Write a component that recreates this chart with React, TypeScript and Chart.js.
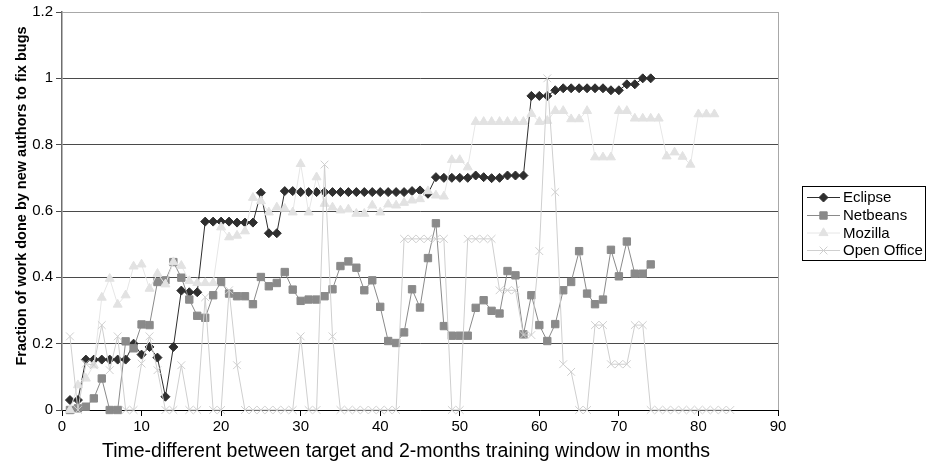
import React, { useEffect, useRef } from "react";
import { Chart, registerables } from "chart.js";
import { drawPoint } from "chart.js/helpers";

Chart.register(...registerables);

// Fraction of bug-fix work done by new authors, one value per month offset (starting at month 1)
const eclipse = [
  0.03, 0.03, 0.152, 0.152, 0.152, 0.152, 0.152, 0.152, 0.2, 0.167,
  0.19, 0.158, 0.04, 0.19, 0.36, 0.355, 0.355, 0.568, 0.568, 0.568,
  0.568, 0.565, 0.565, 0.565, 0.655, 0.533, 0.533, 0.66, 0.66, 0.657,
  0.657, 0.657, 0.657, 0.657, 0.657, 0.657, 0.657, 0.657, 0.657, 0.657,
  0.657, 0.657, 0.657, 0.66, 0.662, 0.652, 0.702, 0.7, 0.7, 0.7,
  0.7, 0.707, 0.702, 0.699, 0.7, 0.707, 0.707, 0.707, 0.947, 0.947,
  0.947, 0.964, 0.97, 0.97, 0.97, 0.97, 0.97, 0.97, 0.964, 0.964,
  0.982, 0.982, 1.0, 1.0,
];

const netbeans = [
  0.0, 0.005, 0.01, 0.035, 0.095, 0.0, 0.0, 0.207, 0.186, 0.258,
  0.256, 0.386, 0.391, 0.446, 0.399, 0.333, 0.284, 0.278, 0.346, 0.386,
  0.351, 0.343, 0.343, 0.319, 0.401, 0.373, 0.383, 0.416, 0.363, 0.329,
  0.333, 0.333, 0.343, 0.364, 0.434, 0.448, 0.429, 0.361, 0.391, 0.311,
  0.208, 0.202, 0.234, 0.364, 0.309, 0.458, 0.563, 0.253, 0.224, 0.224,
  0.224, 0.308, 0.331, 0.299, 0.291, 0.419, 0.406, 0.228, 0.346, 0.256,
  0.208, 0.259, 0.361, 0.386, 0.479, 0.351, 0.319, 0.333, 0.483, 0.403,
  0.508, 0.411, 0.411, 0.439,
];

const mozilla = [
  0.0, 0.075, 0.095, 0.135, 0.339, 0.396, 0.318, 0.346, 0.433, 0.439,
  0.366, 0.411, 0.379, 0.446, 0.435, 0.389, 0.383, 0.383, 0.383, 0.551,
  0.521, 0.526, 0.539, 0.64, 0.63, 0.596, 0.611, 0.607, 0.596, 0.742,
  0.596, 0.702, 0.622, 0.611, 0.602, 0.605, 0.592, 0.592, 0.617, 0.596,
  0.62, 0.617, 0.625, 0.632, 0.636, 0.66, 0.647, 0.644, 0.754, 0.754,
  0.732, 0.869, 0.869, 0.869, 0.869, 0.869, 0.869, 0.869, 0.893, 0.869,
  0.872, 0.902, 0.902, 0.877, 0.877, 0.902, 0.762, 0.762, 0.762, 0.902,
  0.902, 0.879, 0.879, 0.879, 0.879, 0.765, 0.777, 0.764, 0.74, 0.892,
  0.892, 0.892,
];

const openOffice = [
  0.222, 0.0, 0.14, 0.135, 0.256, 0.12, 0.222, 0.0, 0.0, 0.14,
  0.222, 0.12, 0.0, 0.0, 0.135, 0.0, 0.0, 0.34, 0.0, 0.0,
  0.361, 0.135, 0.0, 0.0, 0.0, 0.0, 0.0, 0.0, 0.0, 0.222,
  0.0, 0.0, 0.74, 0.222, 0.0, 0.0, 0.0, 0.0, 0.0, 0.0,
  0.0, 0.0, 0.516, 0.516, 0.516, 0.516, 0.516, 0.516, 0.0, 0.0,
  0.516, 0.516, 0.516, 0.516, 0.361, 0.361, 0.361, 0.226, 0.226, 0.479,
  1.0, 0.657, 0.138, 0.115, 0.0, 0.0, 0.256, 0.256, 0.138, 0.138,
  0.138, 0.256, 0.256, 0.0, 0.0, 0.0, 0.0, 0.0, 0.0, 0.0,
  0.0, 0.0, 0.0, 0.0,
];

const seriesNames = ["Eclipse", "Netbeans", "Mozilla", "Open Office"];
const xTickValues = [0, 10, 20, 30, 40, 50, 60, 70, 80, 90];
const yTickLabels = ["0", "0.2", "0.4", "0.6", "0.8", "1", "1.2"];

const yTitle = "Fraction of work done by new authors to fix bugs";
const xTitle = "Time-different between target and 2-months training window in months";

const FONT = "'Liberation Sans', Arial, Helvetica, sans-serif";

const styles = [
  { line: "#2e2e2e", fill: "#2e2e2e", point: "rectRot", radius: 4.5 },
  { line: "#8a8a8a", fill: "#8a8a8a", point: "rect", radius: 5.2 },
  { line: "#e6e6e6", fill: "#e2e2e2", point: "triangle", radius: 5.2 },
  { line: "#cfcfcf", fill: "#cfcfcf", point: "crossRot", radius: 5.5 },
];

const toPoints = (vals: number[]) => vals.map((y, i) => ({ x: i + 1, y }));

// Axis titles, plot frame and the boxed legend on the right
const decorations = {
  id: "decorations",
  beforeDatasetsDraw(chart: any) {
    const { ctx, chartArea } = chart;
    ctx.save();
    ctx.strokeStyle = "#a8a8a8";
    ctx.lineWidth = 1;
    ctx.beginPath();
    ctx.moveTo(Math.round(chartArea.right) + 0.5, chartArea.top);
    ctx.lineTo(Math.round(chartArea.right) + 0.5, chartArea.bottom);
    ctx.stroke();
    ctx.restore();
  },
  afterDraw(chart: any) {
    const { ctx } = chart;
    ctx.save();
    ctx.fillStyle = "#000";
    ctx.textBaseline = "middle";
    ctx.textAlign = "center";

    ctx.save();
    ctx.translate(22, 196);
    ctx.rotate(-Math.PI / 2);
    ctx.font = `bold 14.5px ${FONT}`;
    ctx.fillText(yTitle, 0, 0);
    ctx.restore();

    ctx.font = `19.5px ${FONT}`;
    ctx.fillText(xTitle, 406, 452);

    // legend
    const boxX = 802.5, boxY = 186.5, boxW = 123, boxH = 74;
    ctx.strokeStyle = "#000";
    ctx.lineWidth = 1;
    ctx.strokeRect(boxX, boxY, boxW, boxH);
    const rowY = [197, 215, 232.5, 250];
    ctx.textAlign = "left";
    ctx.font = `15px ${FONT}`;
    seriesNames.forEach((name, i) => {
      const st = styles[i];
      const y = rowY[i];
      ctx.strokeStyle = st.line;
      ctx.lineWidth = 1;
      ctx.beginPath();
      ctx.moveTo(807, y + 0.5);
      ctx.lineTo(840, y + 0.5);
      ctx.stroke();
      ctx.fillStyle = st.fill;
      ctx.strokeStyle = st.fill;
      drawPoint(ctx, { pointStyle: st.point, radius: st.radius, rotation: 0, borderWidth: 1 }, 823.5, y + 0.5);
      ctx.fillStyle = "#000";
      ctx.fillText(name, 843, y + 1);
    });
    ctx.restore();
  },
};

export default function App() {
  const canvasRef = useRef<HTMLCanvasElement | null>(null);

  useEffect(() => {
    const canvas = canvasRef.current;
    if (!canvas) return;
    const allSeries = [eclipse, netbeans, mozilla, openOffice];
    const chart = new Chart(canvas, {
      type: "line",
      data: {
        datasets: allSeries.map((vals, i) => ({
          label: seriesNames[i],
          data: toPoints(vals),
          borderColor: styles[i].line,
          backgroundColor: styles[i].fill,
          pointBackgroundColor: styles[i].fill,
          pointBorderColor: styles[i].fill,
          pointStyle: styles[i].point as any,
          pointRadius: styles[i].radius,
          pointBorderWidth: 1,
          borderWidth: 1,
          tension: 0,
          fill: false,
          clip: false as any,
          order: 4 - i,
        })),
      },
      options: {
        responsive: false,
        animation: false,
        events: [],
        layout: { padding: { top: 11, right: 150, left: 0, bottom: 0 } },
        plugins: {
          legend: { display: false },
          tooltip: { enabled: false },
        },
        scales: {
          x: {
            type: "linear",
            min: 0,
            max: 90,
            afterBuildTicks: (scale: any) => {
              scale.ticks = xTickValues.map((v) => ({ value: v }));
            },
            ticks: {
              color: "#000",
              font: { family: FONT, size: 15 },
              padding: 2,
              maxRotation: 0,
              callback: (v: any) => String(v),
            },
            grid: {
              display: true,
              drawOnChartArea: false,
              drawTicks: true,
              tickLength: 6,
              color: "#000",
            },
            border: { color: "#000", width: 1 },
            afterFit: (scale: any) => {
              scale.height = 60;
            },
          },
          y: {
            type: "linear",
            min: 0,
            max: 1.2,
            ticks: {
              stepSize: 0.2,
              color: "#000",
              font: { family: FONT, size: 15 },
              padding: 3,
              callback: (_v: any, idx: number) => yTickLabels[idx],
            },
            grid: {
              drawTicks: true,
              tickLength: 6,
              color: (c: any) => (c.index === yTickLabels.length - 1 ? "#a8a8a8" : "#4a4a4a"),
              tickColor: "#4a4a4a",
            },
            border: { color: "#6e6e6e", width: 1.5 },
            afterFit: (scale: any) => {
              scale.width = 62;
            },
          },
        },
      },
      plugins: [decorations],
    });
    return () => chart.destroy();
  }, []);

  return (
    <div style={{ position: "absolute", left: 0, top: 0, width: 928, height: 470, background: "#fff" }}>
      <canvas ref={canvasRef} width={928} height={470} style={{ display: "block" }} />
    </div>
  );
}
